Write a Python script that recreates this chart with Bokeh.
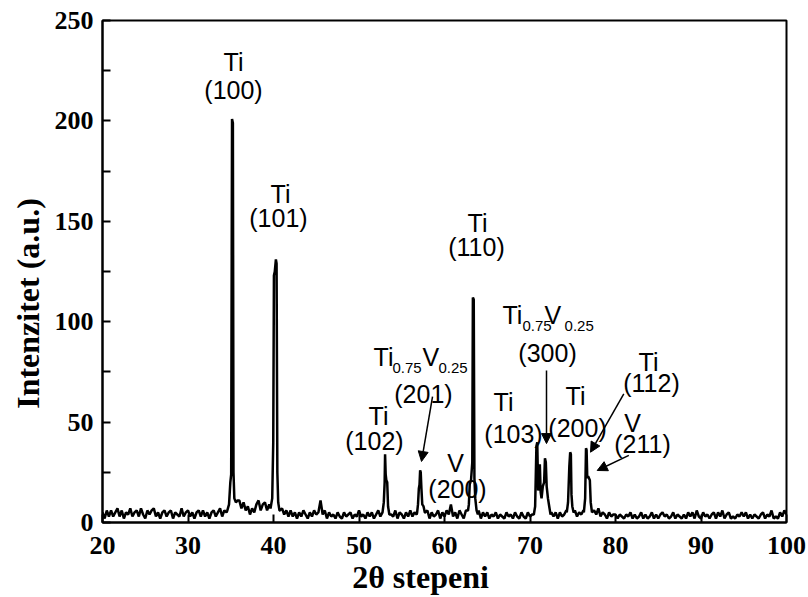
import numpy as np
from bokeh.plotting import figure
from bokeh.models import Arrow, NormalHead, Label, FixedTicker, Range1d
from bokeh.embed import file_html
from bokeh.resources import INLINE

# ---------------- data ----------------
# background scan, 2theta from 20 to 100 in 0.25 deg steps
bg_start = 20.0
bg_step = 0.25
bg_y = [
    5, 2, 6, 3,   6, 3, 5, 7,   3, 6, 2, 5,   4, 7, 3, 5,   6, 3, 7, 4,    # 20-24
    2, 6, 4, 6,   7, 3, 5, 2,   5, 6, 3, 5,   6, 2, 5, 4,   3, 7, 3, 5,    # 25-29
    6, 3, 5, 2,   5, 6, 3, 6,   3, 5, 2, 5,   6, 3, 5, 7,   3, 6, 5, 8,    # 30-34
    8, 9, 10, 9,  11, 7, 10, 6, 8, 4, 7, 5,   9, 11, 6, 9,  10, 6, 9, 7,   # 35-39
    8, 10, 9, 6,  7, 4, 6, 3,   6, 3, 5, 2,   5, 3, 6, 4,   2, 5, 3, 6,    # 40-44
    4, 5, 11, 4,  6, 2, 5, 3,   4, 2, 5, 3,   2, 5, 3, 4,   5, 2, 4, 3,    # 45-49
    6, 3, 4, 2,   5, 3, 5, 2,   4, 6, 3, 5,   4, 4, 4, 4,   3, 6, 2, 5,    # 50-54
    4, 2, 5, 3,   6, 3, 5, 4,   5, 5, 5, 5,   6, 2, 5, 3,   4, 6, 2, 5,    # 55-59
    3, 6, 4, 9,   3, 5, 2, 6,   4, 2, 6, 6,   6, 6, 6, 6,   6, 2, 5, 3,    # 60-64
    5, 2, 4, 3,   5, 2, 4, 3,   2, 5, 3, 4,   2, 5, 3, 2,   5, 3, 2, 5,    # 65-69
    3, 4, 5, 4,   4, 4, 4, 4,   4, 4, 5, 3,   5, 2, 5, 3,   4, 6, 5, 5,    # 70-74
    5, 6, 3, 5,   4, 6, 5, 5,   5, 5, 6, 4,   7, 3, 5, 4,   2, 5, 3, 4,    # 75-79
    4, 2, 4, 3,   2, 4, 3, 5,   2, 4, 2, 3,   5, 2, 4, 2,   3, 5, 2, 4,    # 80-84
    2, 4, 5, 3,   4, 2, 3, 5,   2, 4, 3, 2,   4, 2, 5, 3,   5, 2, 6, 3,    # 85-89
    2, 5, 3, 4,   2, 4, 5, 2,   5, 3, 6, 2,   4, 5, 2, 3,   2, 4, 3, 5,    # 90-94
    3, 5, 2, 4,   2, 4, 3, 2,   4, 5, 2, 4,   3, 6, 2, 3,   2, 5, 3, 6,    # 95-99
    4,                                                                      # 100
]

# diffraction peaks
ti100_x = [34.6, 34.8, 34.95, 35.05, 35.15, 35.25, 35.32, 35.42, 35.6, 35.8]
ti100_y = [6, 9, 20, 24, 201, 199, 25, 12, 10, 11]
ti101_x = [39.65, 39.85, 39.97, 40.05, 40.15, 40.28, 40.36, 40.45, 40.55, 40.7]
ti101_y = [7, 12, 40, 123, 125, 131, 129, 25, 10, 6]
ti102_x = [52.75, 52.9, 53.0, 53.05, 53.12, 53.2, 53.3, 53.4, 53.55]
ti102_y = [5, 10, 20, 34, 24, 21, 20, 8, 4]
tiv201_x = [56.8, 56.9, 57.0, 57.08, 57.15, 57.22, 57.3, 57.4, 57.55, 57.7]
tiv201_y = [5, 9, 17, 19, 26, 25, 17, 9, 8, 5]
ti110_x = [62.75, 62.85, 62.95, 63.1, 63.25, 63.32, 63.42, 63.5, 63.6, 63.75, 63.9]
ti110_y = [6, 9, 19, 21, 30, 112, 111, 22, 12, 6, 4]
ti103_x = [70.45, 70.6, 70.75, 70.85, 70.95, 71.05, 71.15, 71.25, 71.35, 71.5,
           71.65, 71.75, 71.85, 71.95, 72.1, 72.25, 72.4]
ti103_y = [4, 8, 38, 40, 16, 18, 29, 15, 12, 18, 20, 32, 30, 18, 12, 8, 4]
ti200_x = [74.3, 74.45, 74.6, 74.7, 74.78, 74.85, 74.95, 75.1]
ti200_y = [5, 10, 28, 35, 34, 14, 8, 5]
ti112_x = [76.3, 76.45, 76.55, 76.62, 76.7, 76.8, 76.9, 77.0, 77.1, 77.25]
ti112_y = [5, 12, 37, 36, 22, 23, 22, 21, 10, 5]

peaks = [(ti100_x, ti100_y), (ti101_x, ti101_y), (ti102_x, ti102_y),
         (tiv201_x, tiv201_y), (ti110_x, ti110_y), (ti103_x, ti103_y),
         (ti200_x, ti200_y), (ti112_x, ti112_y)]

x_ticks = [20, 30, 40, 50, 60, 70, 80, 90, 100]
y_ticks = [0, 50, 100, 150, 200, 250]
y_minor = [25, 75, 125, 175, 225]

# ---------------- merge scan ----------------
bg_x = bg_start + bg_step * np.arange(len(bg_y))
bg_yv = np.array(bg_y, dtype=float)
keep = np.ones(len(bg_x), dtype=bool)
for px, py in peaks:
    keep &= ~((bg_x >= min(px)) & (bg_x <= max(px)))
xs = list(bg_x[keep])
ys = list(bg_yv[keep])
for px, py in peaks:
    xs += px
    ys += py
order = np.argsort(xs)
xs = np.array(xs)[order]
ys = np.array(ys)[order]

# ---------------- figure ----------------
p = figure(width=808, height=597, output_backend="svg", toolbar_location=None,
           x_range=Range1d(20, 100), y_range=Range1d(0, 250),
           min_border_left=102, min_border_right=22, min_border_top=20,
           min_border_bottom=75)
p.background_fill_color = "white"
p.border_fill_color = "white"
p.grid.visible = False
p.outline_line_color = "black"
p.outline_line_width = 2

p.line(xs, ys, line_color="black", line_width=2.5)

for ax in (p.xaxis, p.yaxis):
    ax.axis_line_width = 2
    ax.axis_line_color = "black"
    ax.major_tick_in = 8
    ax.major_tick_out = 0
    ax.minor_tick_in = 8
    ax.minor_tick_out = 0
    ax.major_tick_line_width = 2
    ax.minor_tick_line_width = 2
    ax.major_label_text_font = "Liberation Serif"
    ax.major_label_text_font_style = "bold"
    ax.major_label_text_font_size = "26px"
    ax.major_label_text_color = "black"
    ax.axis_label_text_font = "Liberation Serif"
    ax.axis_label_text_font_style = "bold"
    ax.axis_label_text_font_size = "32px"
    ax.axis_label_text_color = "black"

p.xaxis.ticker = FixedTicker(ticks=x_ticks, minor_ticks=[])
p.yaxis.ticker = FixedTicker(ticks=y_ticks, minor_ticks=y_minor)
p.xaxis.major_label_standoff = 14
p.yaxis.major_label_standoff = 9
p.xaxis.axis_label_standoff = 2
p.yaxis.axis_label_standoff = 6
# trailing no-break spaces shift the titles off-centre, as in the reference
NB = "\u00a0"
p.xaxis.axis_label = "2θ stepeni" + NB * 6
p.yaxis.axis_label = "Intenzitet (a.u.)" + NB * 8

# ---------------- annotations ----------------
FONT = "Liberation Sans"

def lab(x, y, t, size=25, align="center"):
    p.add_layout(Label(x=x, y=y, text=t, text_font=FONT, text_font_size=f"{size}px",
                       text_align=align, text_baseline="alphabetic", text_color="black"))

# Ti (100)
lab(35.32, 229.1, "Ti")
lab(35.32, 215.6, "(100)")
# Ti (101)
lab(40.82, 163.8, "Ti")
lab(40.58, 151.4, "(101)")
# Ti (110)
lab(63.86, 149.4, "Ti")
lab(63.74, 137.0, "(110)")
# Ti (102)
lab(52.28, 52.8, "Ti")
lab(51.81, 40.8, "(102)")
# Ti0.75V0.25 (201)
lab(51.70, 82.2, "Ti", align="left")
lab(53.92, 76.7, "0.75", size=15, align="left")
lab(57.43, 82.2, "V", align="left")
lab(59.30, 76.7, "0.25", size=15, align="left")
lab(57.54, 64.2, "(201)")
# V (200)
lab(61.29, 29.4, "V")
lab(61.52, 16.9, "(200)")
# Ti0.75V0.25 (300)
lab(66.78, 103.1, "Ti", align="left")
lab(69.12, 98.1, "0.75", size=15, align="left")
lab(71.70, 103.1, "V", align="left")
lab(74.04, 98.1, "0.25", size=15, align="left")
lab(72.05, 84.2, "(300)")
# Ti (103)
lab(66.90, 59.8, "Ti")
lab(68.07, 44.3, "(103)")
# Ti (200)
lab(75.32, 63.2, "Ti")
lab(75.56, 47.3, "(200)")
# Ti (112)
lab(83.86, 79.7, "Ti")
lab(84.21, 69.7, "(112)")
# V (211)
lab(81.99, 49.8, "V")
lab(83.16, 39.3, "(211)")

arrows = [(58.60, 62.7, 57.31, 30.4),
          (71.93, 75.7, 71.93, 39.3),
          (80.97, 64.1, 77.08, 35.0),
          (81.56, 33.4, 77.86, 25.9)]
for xs0, ys0, xe, ye in arrows:
    p.add_layout(Arrow(end=NormalHead(size=10, fill_color="black", line_color="black", line_width=1),
                       x_start=xs0, y_start=ys0, x_end=xe, y_end=ye,
                       line_color="black", line_width=1.5))

open("out.html", "w").write(file_html(p, INLINE))
